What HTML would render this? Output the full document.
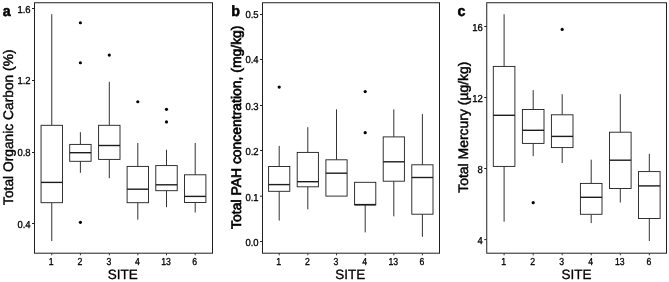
<!DOCTYPE html>
<html><head><meta charset="utf-8"><title>Boxplots</title>
<style>
html,body{margin:0;padding:0;background:#fff;}
svg{display:block;will-change:transform;}
text{font-family:"Liberation Sans",sans-serif;text-rendering:geometricPrecision;stroke:#000;stroke-width:0.3;}
</style></head><body>
<svg width="669" height="282" viewBox="0 0 669 282">
<rect x="0" y="0" width="669" height="282" fill="#ffffff"/>
<g id="panel-a">
<line x1="51.75" y1="14.2" x2="51.75" y2="125.3" stroke="#1c1c1c" stroke-width="0.9"/>
<line x1="51.75" y1="202.7" x2="51.75" y2="241" stroke="#1c1c1c" stroke-width="0.9"/>
<rect x="41.05" y="125.3" width="21.40" height="77.40" fill="#ffffff" stroke="#1c1c1c" stroke-width="0.9"/>
<line x1="41.05" y1="182.4" x2="62.45" y2="182.4" stroke="#1c1c1c" stroke-width="1.4"/>
<line x1="80.4" y1="132.2" x2="80.4" y2="144.4" stroke="#1c1c1c" stroke-width="0.9"/>
<line x1="80.4" y1="161.3" x2="80.4" y2="172.8" stroke="#1c1c1c" stroke-width="0.9"/>
<rect x="69.70" y="144.4" width="21.40" height="16.90" fill="#ffffff" stroke="#1c1c1c" stroke-width="0.9"/>
<line x1="69.70" y1="152.7" x2="91.10" y2="152.7" stroke="#1c1c1c" stroke-width="1.4"/>
<circle cx="80.4" cy="22.75" r="1.6" fill="#000000"/>
<circle cx="80.4" cy="62.75" r="1.6" fill="#000000"/>
<circle cx="80.4" cy="222.35" r="1.6" fill="#000000"/>
<line x1="109.3" y1="81.8" x2="109.3" y2="125.3" stroke="#1c1c1c" stroke-width="0.9"/>
<line x1="109.3" y1="159.4" x2="109.3" y2="178.2" stroke="#1c1c1c" stroke-width="0.9"/>
<rect x="98.60" y="125.3" width="21.40" height="34.10" fill="#ffffff" stroke="#1c1c1c" stroke-width="0.9"/>
<line x1="98.60" y1="145.5" x2="120.00" y2="145.5" stroke="#1c1c1c" stroke-width="1.4"/>
<circle cx="109.3" cy="55.05" r="1.6" fill="#000000"/>
<line x1="137.8" y1="143" x2="137.8" y2="166.4" stroke="#1c1c1c" stroke-width="0.9"/>
<line x1="137.8" y1="202.7" x2="137.8" y2="219.7" stroke="#1c1c1c" stroke-width="0.9"/>
<rect x="127.10" y="166.4" width="21.40" height="36.30" fill="#ffffff" stroke="#1c1c1c" stroke-width="0.9"/>
<line x1="127.10" y1="189.2" x2="148.50" y2="189.2" stroke="#1c1c1c" stroke-width="1.4"/>
<circle cx="137.8" cy="101.75" r="1.6" fill="#000000"/>
<line x1="166.5" y1="149.7" x2="166.5" y2="165.6" stroke="#1c1c1c" stroke-width="0.9"/>
<line x1="166.5" y1="190.7" x2="166.5" y2="207.2" stroke="#1c1c1c" stroke-width="0.9"/>
<rect x="155.80" y="165.6" width="21.40" height="25.10" fill="#ffffff" stroke="#1c1c1c" stroke-width="0.9"/>
<line x1="155.80" y1="184.8" x2="177.20" y2="184.8" stroke="#1c1c1c" stroke-width="1.4"/>
<circle cx="166.5" cy="109.35" r="1.6" fill="#000000"/>
<circle cx="166.5" cy="121.95" r="1.6" fill="#000000"/>
<line x1="195.2" y1="143" x2="195.2" y2="174.8" stroke="#1c1c1c" stroke-width="0.9"/>
<line x1="195.2" y1="202.5" x2="195.2" y2="212.5" stroke="#1c1c1c" stroke-width="0.9"/>
<rect x="184.50" y="174.8" width="21.40" height="27.70" fill="#ffffff" stroke="#1c1c1c" stroke-width="0.9"/>
<line x1="184.50" y1="196.4" x2="205.90" y2="196.4" stroke="#1c1c1c" stroke-width="1.4"/>
<rect x="34.5" y="2.75" width="178.00" height="250.45" fill="none" stroke="#202020" stroke-width="1.0"/>
<line x1="32.00" y1="8.5" x2="34.5" y2="8.5" stroke="#202020" stroke-width="1"/>
<text transform="translate(30.60,12.65) scale(0.94,1)" font-size="10.1" text-anchor="end" fill="#000000">1.6</text>
<line x1="32.00" y1="80.5" x2="34.5" y2="80.5" stroke="#202020" stroke-width="1"/>
<text transform="translate(30.60,84.40) scale(0.94,1)" font-size="10.1" text-anchor="end" fill="#000000">1.2</text>
<line x1="32.00" y1="152.5" x2="34.5" y2="152.5" stroke="#202020" stroke-width="1"/>
<text transform="translate(30.60,156.30) scale(0.94,1)" font-size="10.1" text-anchor="end" fill="#000000">0.8</text>
<line x1="32.00" y1="223.5" x2="34.5" y2="223.5" stroke="#202020" stroke-width="1"/>
<text transform="translate(30.60,227.60) scale(0.94,1)" font-size="10.1" text-anchor="end" fill="#000000">0.4</text>
<line x1="51.75" y1="253.2" x2="51.75" y2="255.30" stroke="#202020" stroke-width="0.9"/>
<text transform="translate(51.25,264.5) scale(0.86,1)" font-size="10.1" text-anchor="middle" fill="#000000">1</text>
<line x1="80.4" y1="253.2" x2="80.4" y2="255.30" stroke="#202020" stroke-width="0.9"/>
<text transform="translate(79.90,264.5) scale(0.86,1)" font-size="10.1" text-anchor="middle" fill="#000000">2</text>
<line x1="109.3" y1="253.2" x2="109.3" y2="255.30" stroke="#202020" stroke-width="0.9"/>
<text transform="translate(108.80,264.5) scale(0.86,1)" font-size="10.1" text-anchor="middle" fill="#000000">3</text>
<line x1="137.8" y1="253.2" x2="137.8" y2="255.30" stroke="#202020" stroke-width="0.9"/>
<text transform="translate(137.30,264.5) scale(0.86,1)" font-size="10.1" text-anchor="middle" fill="#000000">4</text>
<line x1="166.5" y1="253.2" x2="166.5" y2="255.30" stroke="#202020" stroke-width="0.9"/>
<text transform="translate(166.00,264.5) scale(0.86,1)" font-size="10.1" text-anchor="middle" fill="#000000">13</text>
<line x1="195.2" y1="253.2" x2="195.2" y2="255.30" stroke="#202020" stroke-width="0.9"/>
<text transform="translate(194.70,264.5) scale(0.86,1)" font-size="10.1" text-anchor="middle" fill="#000000">6</text>
<text x="122.70" y="278.9" font-size="13.5" text-anchor="middle" fill="#000">SITE</text>
<text transform="translate(13.3,127.25) rotate(-90)" font-size="13.8" text-anchor="middle" textLength="155.5" lengthAdjust="spacingAndGlyphs" fill="#000" style="stroke-width:0.4">Total Organic Carbon (%)</text>
<text transform="translate(2.80,15.95) scale(0.95,1)" font-size="15" font-weight="bold" fill="#000" style="stroke-width:0.5">a</text>
</g>
<g id="panel-b">
<line x1="279.2" y1="145.9" x2="279.2" y2="166.5" stroke="#1c1c1c" stroke-width="0.9"/>
<line x1="279.2" y1="191.3" x2="279.2" y2="220.6" stroke="#1c1c1c" stroke-width="0.9"/>
<rect x="268.60" y="166.5" width="21.20" height="24.80" fill="#ffffff" stroke="#1c1c1c" stroke-width="0.9"/>
<line x1="268.60" y1="184.6" x2="289.80" y2="184.6" stroke="#1c1c1c" stroke-width="1.4"/>
<circle cx="279.2" cy="87.05" r="1.6" fill="#000000"/>
<line x1="307.8" y1="127.2" x2="307.8" y2="152.4" stroke="#1c1c1c" stroke-width="0.9"/>
<line x1="307.8" y1="186.8" x2="307.8" y2="209.4" stroke="#1c1c1c" stroke-width="0.9"/>
<rect x="297.20" y="152.4" width="21.20" height="34.40" fill="#ffffff" stroke="#1c1c1c" stroke-width="0.9"/>
<line x1="297.20" y1="181.7" x2="318.40" y2="181.7" stroke="#1c1c1c" stroke-width="1.4"/>
<line x1="336.5" y1="109.4" x2="336.5" y2="159.8" stroke="#1c1c1c" stroke-width="0.9"/>
<rect x="325.90" y="159.8" width="21.20" height="36.30" fill="#ffffff" stroke="#1c1c1c" stroke-width="0.9"/>
<line x1="325.90" y1="173.2" x2="347.10" y2="173.2" stroke="#1c1c1c" stroke-width="1.4"/>
<line x1="365.2" y1="205.0" x2="365.2" y2="232.4" stroke="#1c1c1c" stroke-width="0.9"/>
<rect x="354.60" y="182.3" width="21.20" height="22.70" fill="#ffffff" stroke="#1c1c1c" stroke-width="0.9"/>
<line x1="354.60" y1="204.6" x2="375.80" y2="204.6" stroke="#1c1c1c" stroke-width="1.4"/>
<circle cx="365.2" cy="91.55" r="1.6" fill="#000000"/>
<circle cx="365.2" cy="132.65" r="1.6" fill="#000000"/>
<line x1="393.8" y1="109.4" x2="393.8" y2="136.9" stroke="#1c1c1c" stroke-width="0.9"/>
<line x1="393.8" y1="181.2" x2="393.8" y2="216.3" stroke="#1c1c1c" stroke-width="0.9"/>
<rect x="383.20" y="136.9" width="21.20" height="44.30" fill="#ffffff" stroke="#1c1c1c" stroke-width="0.9"/>
<line x1="383.20" y1="161.8" x2="404.40" y2="161.8" stroke="#1c1c1c" stroke-width="1.4"/>
<line x1="422.4" y1="114.1" x2="422.4" y2="164.8" stroke="#1c1c1c" stroke-width="0.9"/>
<line x1="422.4" y1="214.2" x2="422.4" y2="236.8" stroke="#1c1c1c" stroke-width="0.9"/>
<rect x="411.80" y="164.8" width="21.20" height="49.40" fill="#ffffff" stroke="#1c1c1c" stroke-width="0.9"/>
<line x1="411.80" y1="177.5" x2="433.00" y2="177.5" stroke="#1c1c1c" stroke-width="1.4"/>
<rect x="262.5" y="2.75" width="177.00" height="250.45" fill="none" stroke="#202020" stroke-width="1.0"/>
<line x1="260.00" y1="14.5" x2="262.5" y2="14.5" stroke="#202020" stroke-width="1"/>
<text transform="translate(258.60,17.60) scale(0.94,1)" font-size="10.1" text-anchor="end" fill="#000000">0.5</text>
<line x1="260.00" y1="59.5" x2="262.5" y2="59.5" stroke="#202020" stroke-width="1"/>
<text transform="translate(258.60,63.45) scale(0.94,1)" font-size="10.1" text-anchor="end" fill="#000000">0.4</text>
<line x1="260.00" y1="105.5" x2="262.5" y2="105.5" stroke="#202020" stroke-width="1"/>
<text transform="translate(258.60,109.50) scale(0.94,1)" font-size="10.1" text-anchor="end" fill="#000000">0.3</text>
<line x1="260.00" y1="150.5" x2="262.5" y2="150.5" stroke="#202020" stroke-width="1"/>
<text transform="translate(258.60,154.75) scale(0.94,1)" font-size="10.1" text-anchor="end" fill="#000000">0.2</text>
<line x1="260.00" y1="196.2" x2="262.5" y2="196.2" stroke="#202020" stroke-width="1"/>
<text transform="translate(258.60,200.50) scale(0.94,1)" font-size="10.1" text-anchor="end" fill="#000000">0.1</text>
<line x1="260.00" y1="241.5" x2="262.5" y2="241.5" stroke="#202020" stroke-width="1"/>
<text transform="translate(258.60,246.05) scale(0.94,1)" font-size="10.1" text-anchor="end" fill="#000000">0.0</text>
<line x1="279.2" y1="253.2" x2="279.2" y2="255.30" stroke="#202020" stroke-width="0.9"/>
<text transform="translate(278.70,264.5) scale(0.86,1)" font-size="10.1" text-anchor="middle" fill="#000000">1</text>
<line x1="307.8" y1="253.2" x2="307.8" y2="255.30" stroke="#202020" stroke-width="0.9"/>
<text transform="translate(307.30,264.5) scale(0.86,1)" font-size="10.1" text-anchor="middle" fill="#000000">2</text>
<line x1="336.5" y1="253.2" x2="336.5" y2="255.30" stroke="#202020" stroke-width="0.9"/>
<text transform="translate(336.00,264.5) scale(0.86,1)" font-size="10.1" text-anchor="middle" fill="#000000">3</text>
<line x1="365.2" y1="253.2" x2="365.2" y2="255.30" stroke="#202020" stroke-width="0.9"/>
<text transform="translate(364.70,264.5) scale(0.86,1)" font-size="10.1" text-anchor="middle" fill="#000000">4</text>
<line x1="393.8" y1="253.2" x2="393.8" y2="255.30" stroke="#202020" stroke-width="0.9"/>
<text transform="translate(393.30,264.5) scale(0.86,1)" font-size="10.1" text-anchor="middle" fill="#000000">13</text>
<line x1="422.4" y1="253.2" x2="422.4" y2="255.30" stroke="#202020" stroke-width="0.9"/>
<text transform="translate(421.90,264.5) scale(0.86,1)" font-size="10.1" text-anchor="middle" fill="#000000">6</text>
<text x="350.20" y="278.9" font-size="13.5" text-anchor="middle" fill="#000">SITE</text>
<text transform="translate(241.3,127.2) rotate(-90)" font-size="13.8" text-anchor="middle" textLength="203.4" lengthAdjust="spacingAndGlyphs" fill="#000" style="stroke-width:0.65">Total PAH concentration, (mg/kg)</text>
<text transform="translate(231.20,16.15) scale(0.95,1)" font-size="15" font-weight="bold" fill="#000" style="stroke-width:0.5">b</text>
</g>
<g id="panel-c">
<line x1="504.1" y1="14.2" x2="504.1" y2="66.4" stroke="#1c1c1c" stroke-width="0.9"/>
<line x1="504.1" y1="166.4" x2="504.1" y2="221.7" stroke="#1c1c1c" stroke-width="0.9"/>
<rect x="493.30" y="66.4" width="21.60" height="100.00" fill="#ffffff" stroke="#1c1c1c" stroke-width="0.9"/>
<line x1="493.30" y1="115.3" x2="514.90" y2="115.3" stroke="#1c1c1c" stroke-width="1.4"/>
<line x1="533.2" y1="90.1" x2="533.2" y2="109.5" stroke="#1c1c1c" stroke-width="0.9"/>
<line x1="533.2" y1="143.4" x2="533.2" y2="156.2" stroke="#1c1c1c" stroke-width="0.9"/>
<rect x="522.40" y="109.5" width="21.60" height="33.90" fill="#ffffff" stroke="#1c1c1c" stroke-width="0.9"/>
<line x1="522.40" y1="130.3" x2="544.00" y2="130.3" stroke="#1c1c1c" stroke-width="1.4"/>
<circle cx="533.2" cy="202.65" r="1.6" fill="#000000"/>
<line x1="562.2" y1="94.2" x2="562.2" y2="114.8" stroke="#1c1c1c" stroke-width="0.9"/>
<line x1="562.2" y1="147.6" x2="562.2" y2="163.0" stroke="#1c1c1c" stroke-width="0.9"/>
<rect x="551.40" y="114.8" width="21.60" height="32.80" fill="#ffffff" stroke="#1c1c1c" stroke-width="0.9"/>
<line x1="551.40" y1="136.4" x2="573.00" y2="136.4" stroke="#1c1c1c" stroke-width="1.4"/>
<circle cx="562.2" cy="29.45" r="1.6" fill="#000000"/>
<line x1="591.2" y1="159.7" x2="591.2" y2="183.4" stroke="#1c1c1c" stroke-width="0.9"/>
<line x1="591.2" y1="214.3" x2="591.2" y2="223.1" stroke="#1c1c1c" stroke-width="0.9"/>
<rect x="580.40" y="183.4" width="21.60" height="30.90" fill="#ffffff" stroke="#1c1c1c" stroke-width="0.9"/>
<line x1="580.40" y1="197.3" x2="602.00" y2="197.3" stroke="#1c1c1c" stroke-width="1.4"/>
<line x1="620.3" y1="94.2" x2="620.3" y2="132.2" stroke="#1c1c1c" stroke-width="0.9"/>
<line x1="620.3" y1="188.5" x2="620.3" y2="202.5" stroke="#1c1c1c" stroke-width="0.9"/>
<rect x="609.50" y="132.2" width="21.60" height="56.30" fill="#ffffff" stroke="#1c1c1c" stroke-width="0.9"/>
<line x1="609.50" y1="160.2" x2="631.10" y2="160.2" stroke="#1c1c1c" stroke-width="1.4"/>
<line x1="649.3" y1="153.8" x2="649.3" y2="171.6" stroke="#1c1c1c" stroke-width="0.9"/>
<line x1="649.3" y1="218.5" x2="649.3" y2="241" stroke="#1c1c1c" stroke-width="0.9"/>
<rect x="638.50" y="171.6" width="21.60" height="46.90" fill="#ffffff" stroke="#1c1c1c" stroke-width="0.9"/>
<line x1="638.50" y1="185.9" x2="660.10" y2="185.9" stroke="#1c1c1c" stroke-width="1.4"/>
<rect x="486.75" y="2.75" width="179.75" height="250.45" fill="none" stroke="#202020" stroke-width="1.0"/>
<line x1="484.25" y1="26.5" x2="486.75" y2="26.5" stroke="#202020" stroke-width="1"/>
<text transform="translate(482.85,30.55) scale(0.94,1)" font-size="10.1" text-anchor="end" fill="#000000">16</text>
<line x1="484.25" y1="97.5" x2="486.75" y2="97.5" stroke="#202020" stroke-width="1"/>
<text transform="translate(482.85,101.50) scale(0.94,1)" font-size="10.1" text-anchor="end" fill="#000000">12</text>
<line x1="484.25" y1="168.5" x2="486.75" y2="168.5" stroke="#202020" stroke-width="1"/>
<text transform="translate(482.85,172.70) scale(0.94,1)" font-size="10.1" text-anchor="end" fill="#000000">8</text>
<line x1="484.25" y1="239.6" x2="486.75" y2="239.6" stroke="#202020" stroke-width="1"/>
<text transform="translate(482.85,243.60) scale(0.94,1)" font-size="10.1" text-anchor="end" fill="#000000">4</text>
<line x1="504.1" y1="253.2" x2="504.1" y2="255.30" stroke="#202020" stroke-width="0.9"/>
<text transform="translate(503.60,264.5) scale(0.86,1)" font-size="10.1" text-anchor="middle" fill="#000000">1</text>
<line x1="533.2" y1="253.2" x2="533.2" y2="255.30" stroke="#202020" stroke-width="0.9"/>
<text transform="translate(532.70,264.5) scale(0.86,1)" font-size="10.1" text-anchor="middle" fill="#000000">2</text>
<line x1="562.2" y1="253.2" x2="562.2" y2="255.30" stroke="#202020" stroke-width="0.9"/>
<text transform="translate(561.70,264.5) scale(0.86,1)" font-size="10.1" text-anchor="middle" fill="#000000">3</text>
<line x1="591.2" y1="253.2" x2="591.2" y2="255.30" stroke="#202020" stroke-width="0.9"/>
<text transform="translate(590.70,264.5) scale(0.86,1)" font-size="10.1" text-anchor="middle" fill="#000000">4</text>
<line x1="620.3" y1="253.2" x2="620.3" y2="255.30" stroke="#202020" stroke-width="0.9"/>
<text transform="translate(619.80,264.5) scale(0.86,1)" font-size="10.1" text-anchor="middle" fill="#000000">13</text>
<line x1="649.3" y1="253.2" x2="649.3" y2="255.30" stroke="#202020" stroke-width="0.9"/>
<text transform="translate(648.80,264.5) scale(0.86,1)" font-size="10.1" text-anchor="middle" fill="#000000">6</text>
<text x="576.43" y="278.9" font-size="13.5" text-anchor="middle" fill="#000">SITE</text>
<text transform="translate(467.8,127.2) rotate(-90)" font-size="13.8" text-anchor="middle" textLength="131.2" lengthAdjust="spacingAndGlyphs" fill="#000" style="stroke-width:0.45">Total Mercury (µg/kg)</text>
<text transform="translate(457.40,16.25) scale(0.95,1)" font-size="15" font-weight="bold" fill="#000" style="stroke-width:0.5">c</text>
</g>
</svg>
</body></html>
